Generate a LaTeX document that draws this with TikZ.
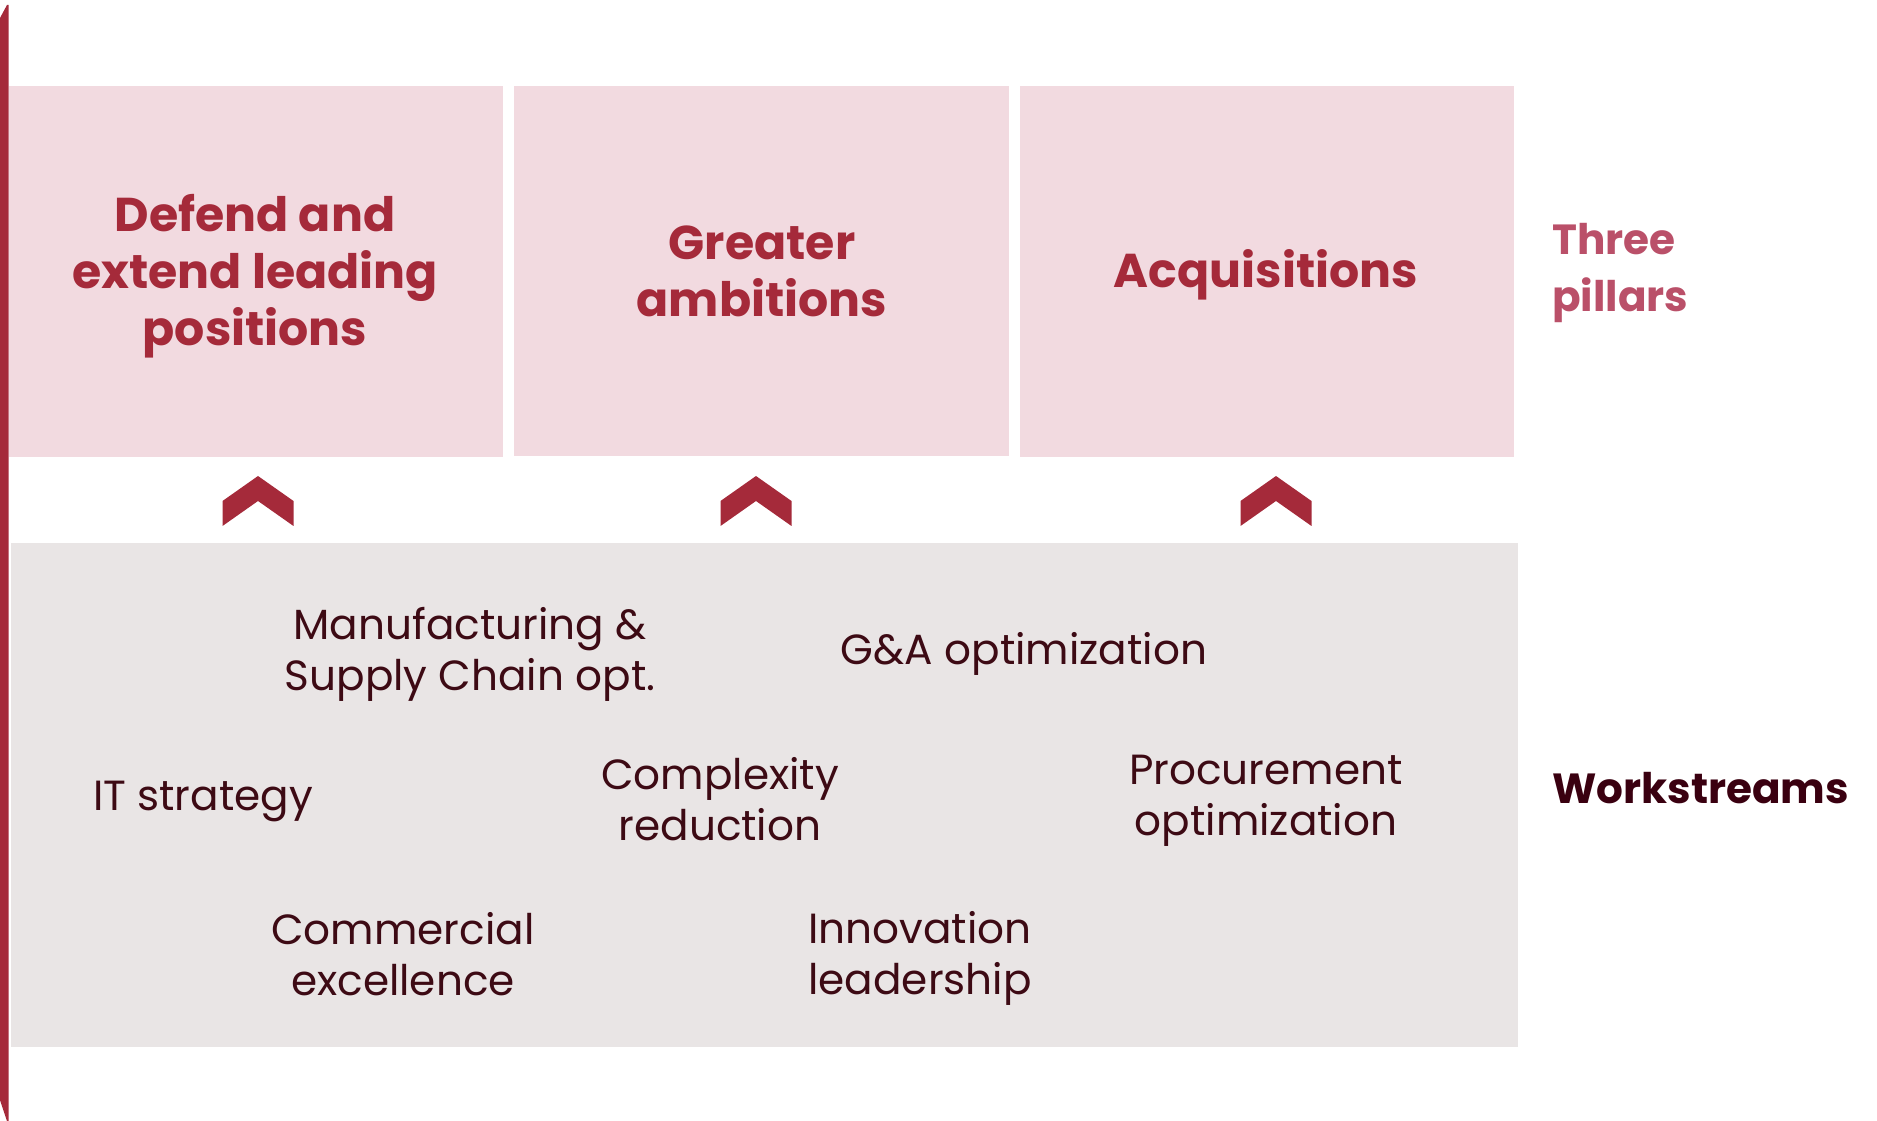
\documentclass[tikz,border=0pt]{standalone}
\usepackage{fontspec}
\setmainfont{Poppins}
\usepackage{tikz}
\usetikzlibrary{positioning}
\definecolor{brand}    {HTML}{A52A3A}
\definecolor{pillarbg} {HTML}{F2DAE0}
\definecolor{streambg} {HTML}{E9E5E5}
\definecolor{streamink}{HTML}{3D0A14}
\definecolor{rosetext} {HTML}{BA5069}
\definecolor{darkink}  {HTML}{3A0010}
\tikzset{
  % --- boxes
  pillar/.style = {fill=pillarbg, inner sep=0pt, minimum width=9.9cm, minimum height=7.42cm},
  stream/.style = {fill=streambg, inner sep=0pt, minimum width=30.14cm, minimum height=10.08cm},
  % --- texts
  ptxt/.style   = {align=center, inner sep=0pt, text=brand,
                   font=\fontsize{27}{32.6}\selectfont\bfseries},
  wtxt/.style   = {align=center, inner sep=0pt, text=streamink,
                   font=\fontsize{24}{29}\selectfont},
  side/.style   = {anchor=west, align=left, inner sep=0pt,
                   font=\fontsize{24}{33}\selectfont\bfseries},
}

\begin{document}
\begin{tikzpicture}[x=0.02cm, y=-0.02cm]
  \useasboundingbox (0,0) rectangle (1877,1121);
  % edge strip
  \fill[brand] (0,18) -- (7,5) -- (8.5,5) -- (8.5,1121) -- (7,1121) -- (0,1100) -- cycle;
  % pillars
  \node[pillar] (defend)  at (256,271.5)   {};
  \node[pillar] (greater) at (761.5,271)   {};
  \node[pillar] (acq)     at (1267,271.5)  {};
  \node[ptxt] (defendtxt)  at (255,276)  {Defend and\\extend leading\\positions};
  \node[ptxt] (greatertxt) at (762,271)  {Greater\\ambitions};
  \node[ptxt] (acqtxt)     at (1266,275) {Acquisitions};
  % chevrons
  \foreach \cx in {258,756,1276}
    \fill[brand] (\cx-35.5,501) -- (\cx,476) -- (\cx+35.5,501) -- (\cx+35.5,526)
                 -- (\cx,501) -- (\cx-35.5,526) -- cycle;
  % workstreams
  \node[stream] (streams) at (764.5,795) {};
  \node[wtxt] (manuf)  at (470,654)  {Manufacturing \&\\Supply Chain opt.};
  \node[wtxt] (ga)     at (1024,654) {G\&A optimization};
  \node[wtxt] (it)     at (203,801)  {IT strategy};
  \node[wtxt] (cplx)   at (720,799)  {Complexity\\reduction};
  \node[wtxt] (proc)   at (1266,801) {Procurement\\optimization};
  \node[wtxt] (comm)   at (403,954)  {Commercial\\excellence};
  \node[wtxt] (innov)  at (920,958)  {Innovation\\leadership};
  % row labels
  \node[side, text=rosetext] (three) at (1552,273) {Three\\pillars};
  \node[side, text=darkink]  (work)  at (1552,788) {Workstreams};
\end{tikzpicture}
\end{document}
